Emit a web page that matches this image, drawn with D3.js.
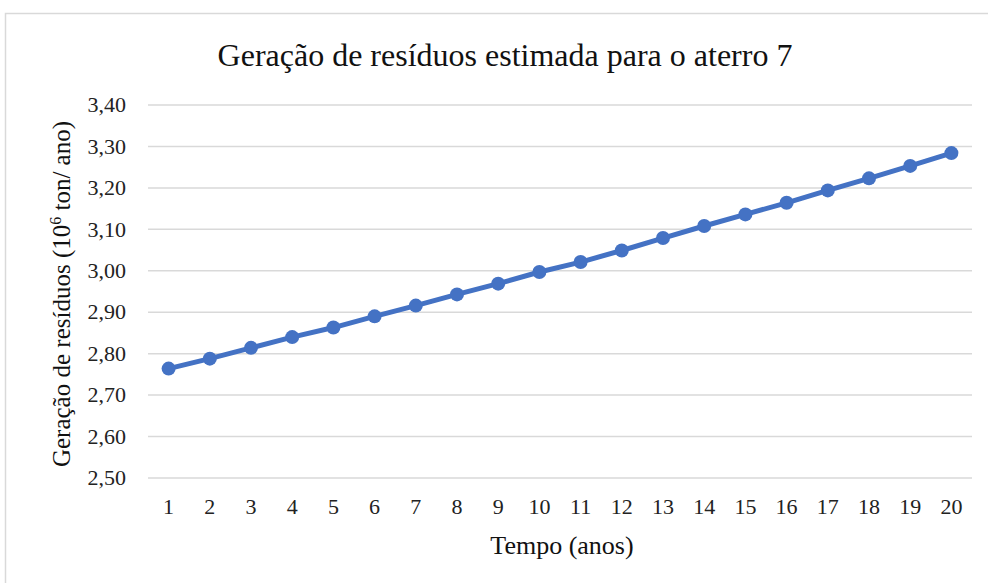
<!DOCTYPE html>
<html><head><meta charset="utf-8">
<script src="https://cdn.jsdelivr.net/npm/d3@7/dist/d3.min.js"></script>
<style>body{margin:0;background:#fff;} text{font-family:'Liberation Serif','Times New Roman',Tinos,'DejaVu Serif',serif;}</style>
</head><body><svg id="c" width="988" height="583"></svg>
<script>
const categories = ["1","2","3","4","5","6","7","8","9","10","11","12","13","14","15","16","17","18","19","20"];
const values = [2.764,2.788,2.814,2.840,2.863,2.890,2.916,2.943,2.969,2.997,3.021,3.049,3.079,3.108,3.136,3.164,3.194,3.223,3.253,3.284];
const yTicks = [2.5,2.6,2.7,2.8,2.9,3.0,3.1,3.2,3.3,3.4];
const title = "Geração de resíduos estimada para o aterro 7";
const xTitle = "Tempo (anos)";

const svg = d3.select("#c");
svg.append("rect").attr("x",5.5).attr("y",13.5).attr("width",1000).attr("height",600)
  .attr("fill","#fff").attr("stroke","#d9d9d9").attr("stroke-width",1.5);

const L=148,R=972,T=105,B=478;
const x = d3.scaleBand().domain(categories).range([L,R]);
const y = d3.scaleLinear().domain([2.5,3.4]).range([B,T]);

svg.append("g").selectAll("line").data(yTicks).join("line")
  .attr("x1",L).attr("x2",R).attr("y1",d=>y(d)).attr("y2",d=>y(d))
  .attr("stroke","#d9d9d9").attr("stroke-width",1.5);

const fmt = d => d.toFixed(2).replace(".",",");
svg.append("g").selectAll("text").data(yTicks).join("text")
  .attr("x",126).attr("y",d=>y(d)).attr("dy","0.33em").attr("text-anchor","end")
  .attr("font-size",22).attr("fill","#222").text(fmt);

svg.append("g").selectAll("text").data(categories).join("text")
  .attr("x",d=>x(d)+x.bandwidth()/2).attr("y",507).attr("dy","0.33em").attr("text-anchor","middle")
  .attr("font-size",22).attr("fill","#222").text(d=>d);

const line = d3.line().x((d,i)=>x(categories[i])+x.bandwidth()/2).y(d=>y(d));
svg.append("path").datum(values).attr("d",line).attr("fill","none")
  .attr("stroke","#4472C4").attr("stroke-width",5).attr("stroke-linejoin","round");
svg.append("g").selectAll("circle").data(values).join("circle")
  .attr("cx",(d,i)=>x(categories[i])+x.bandwidth()/2).attr("cy",d=>y(d)).attr("r",7)
  .attr("fill","#4472C4");

svg.append("text").attr("x",505).attr("y",55).attr("dy","0.33em").attr("text-anchor","middle")
  .attr("font-size",32).attr("fill","#111").text(title);
svg.append("text").attr("x",562).attr("y",545).attr("dy","0.33em").attr("text-anchor","middle")
  .attr("font-size",26).attr("fill","#111").text(xTitle);

const yt = svg.append("text").attr("transform","translate(62,294) rotate(-90)")
  .attr("dy","0.33em").attr("text-anchor","middle").attr("font-size",25).attr("fill","#111");
yt.append("tspan").text("Geração de resíduos (10");
yt.append("tspan").attr("font-size",16).attr("dy","-0.55em").text("6");
yt.append("tspan").attr("dy","0.35em").text(" ton/ ano)");
</script></body></html>
